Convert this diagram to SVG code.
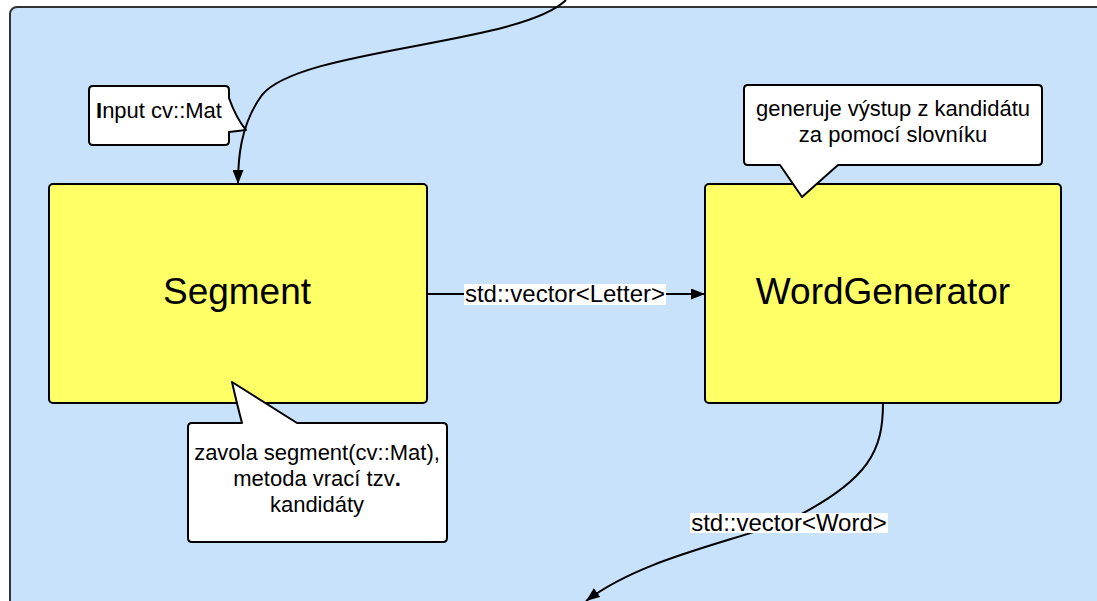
<svg xmlns="http://www.w3.org/2000/svg" width="1097" height="601" viewBox="0 0 1097 601">
<style>
text{font-family:"Liberation Sans",Arial,sans-serif;fill:#000}
.box{fill:#ffff66;stroke:#000;stroke-width:2}
.call{fill:#fff;stroke:#000;stroke-width:2;stroke-linejoin:round}
.big{font-size:37px}
.sm{font-size:22px}
.lb{font-size:24px}
.conn{fill:none;stroke:#000;stroke-width:2}
.lbl{fill:#fff}
</style>
<defs>
<marker id="ah" viewBox="0 0 14 11" refX="14" refY="5.5" markerWidth="14" markerHeight="11" markerUnits="userSpaceOnUse" orient="auto">
<path d="M0,0 L14,5.5 L0,11 z" fill="#000"/>
</marker>
</defs>
<rect width="1097" height="601" fill="#fff"/>
<g id="container">
<rect x="10" y="7" width="1120" height="640" rx="7" fill="#c9e2fb" stroke="#333" stroke-width="2"/>
</g>
<g id="segment">
<rect class="box" x="49" y="184" width="378" height="219" rx="4"/>
<text class="big" x="237" y="304" text-anchor="middle">Segment</text>
</g>
<g id="wordgenerator">
<rect class="box" x="705" y="184" width="356" height="219" rx="4"/>
<text class="big" x="883" y="304" text-anchor="middle">WordGenerator</text>
</g>
<g id="callout-input">
<path class="call" d="M93,86 H225 Q229,86 229,90 V98 Q236,118 246,130 L229,132 V141 Q229,145 225,145 H93 Q89,145 89,141 V90 Q89,86 93,86 Z"/>
<text class="sm" x="96" y="118"><tspan font-weight="bold">I</tspan>nput cv::Mat</text>
</g>
<g id="callout-generuje">
<path class="call" d="M748,85 H1038 Q1042,85 1042,89 V161 Q1042,165 1038,165 H838 L802,197 L780,165 H748 Q744,165 744,161 V89 Q744,85 748,85 Z"/>
<text class="sm" x="893" y="116" text-anchor="middle">generuje výstup z kandidátu</text>
<text class="sm" x="893" y="142" text-anchor="middle">za pomocí slovníku</text>
</g>
<g id="callout-zavola">
<path class="call" d="M192,423 H242 Q236,400 232,382 L297,423 H443 Q447,423 447,427 V538 Q447,542 443,542 H192 Q188,542 188,538 V427 Q188,423 192,423 Z"/>
<text class="sm" x="317" y="460" text-anchor="middle">zavola segment(cv::Mat),</text>
<text class="sm" x="317" y="486" text-anchor="middle">metoda vrací tzv<tspan font-weight="bold">.</tspan></text>
<text class="sm" x="317" y="512" text-anchor="middle">kandidáty</text>
</g>
<g id="connectors">
<path class="conn" d="M566,0 C520,45 300,48 262,95 C240,125 238,160 238,184" marker-end="url(#ah)"/>
<path class="conn" d="M427,294 H705" marker-end="url(#ah)"/>
<rect class="lbl" x="464" y="284" width="202" height="21"/>
<text class="lb" x="565" y="302" text-anchor="middle">std::vector&lt;Letter&gt;</text>
<path class="conn" d="M883,403 C883,450 870,480 790,520 C720,545 640,560 586,601" marker-end="url(#ah)"/>
<rect class="lbl" x="690" y="513" width="198" height="20"/>
<text class="lb" x="789" y="531" text-anchor="middle">std::vector&lt;Word&gt;</text>
</g>
</svg>
